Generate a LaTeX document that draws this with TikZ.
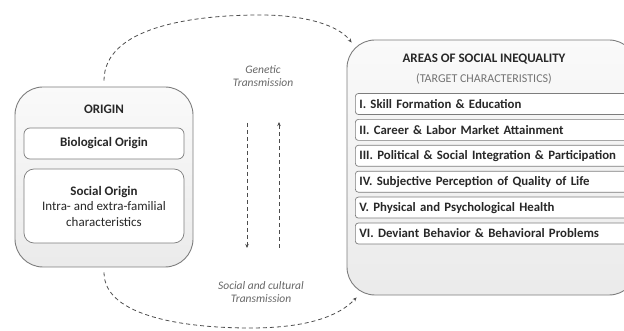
\documentclass[tikz,border=0pt]{standalone}
\usepackage{fontspec}
\setmainfont{Carlito}
\usetikzlibrary{arrows.meta, positioning}
\definecolor{mygray}{RGB}{125,125,125}
\definecolor{mytext}{RGB}{40,40,40}
\tikzset{
    outerbox/.style = {draw=mygray, line width=0.9pt, rounded corners=28pt, top color=gray!4, bottom color=gray!16},
    originbox/.style = {draw=mygray, line width=0.7pt, fill=white, rounded corners=7pt, minimum width=160pt, align=center, text=mytext, font=\fontsize{13}{15.5}\selectfont},
    areabox/.style = {draw=mygray, line width=0.7pt, fill=white, rounded corners=3pt, minimum height=21pt, text width=275pt, inner xsep=4pt, align=left, text=mytext, font=\fontsize{12.8}{15}\selectfont\bfseries},
    heading/.style = {text=mytext, font=\fontsize{13}{15}\selectfont\bfseries},
    note/.style = {text=gray!80!black, font=\fontsize{11.5}{13.5}\selectfont\itshape, align=center},
    transfer/.style = {dash pattern=on 4pt off 3pt, line width=0.8pt, black!70, -{Stealth[length=4pt, width=3.5pt]}}
}

\begin{document}
\begin{tikzpicture}[x=1pt, y=-1pt, node distance=4.2pt]
  \useasboundingbox (0,0) rectangle (624,331);

  % origin side
  \node[outerbox, minimum width=178pt, minimum height=180pt] (origin) at (104,177) {};
  \node[heading] (origintitle) at (104,109) {ORIGIN};
  \node[originbox, minimum height=31pt, rounded corners=6pt, font=\fontsize{13}{15}\selectfont\bfseries] (bio) at (104,143.5) {Biological Origin};
  \node[originbox, minimum height=74pt, rounded corners=10pt] (social) at (104,206) {\textbf{Social Origin}\\Intra- and extra-familial\\characteristics};

  % target side
  \node[outerbox, minimum width=290pt, minimum height=255pt] (areas) at (492,167.5) {};
  \node[heading] (areastitle) at (484,59) {AREAS OF SOCIAL INEQUALITY};
  \node[text=gray!90!black, font=\fontsize{12}{14}\selectfont] (areassub) at (484,79) {(TARGET CHARACTERISTICS)};
  \node[areabox, anchor=west] (skill) at (355,104) {I. Skill Formation \& Education};
  \node[areabox, below=of skill] (career) {II. Career \& Labor Market Attainment};
  \node[areabox, below=of career] (politics) {III. Political \& Social Integration \& Participation};
  \node[areabox, below=of politics] (quality) {IV. Subjective Perception of Quality of Life};
  \node[areabox, below=of quality] (health) {V. Physical and Psychological Health};
  \node[areabox, below=of health] (deviant) {VI. Deviant Behavior \& Behavioral Problems};

  % transmission
  \node[note] (genetic) at (263,76) {Genetic\\Transmission};
  \node[note] (cultural) at (261,292) {Social and cultural\\Transmission};
  \coordinate (downtop) at (247,123);
  \coordinate (downend) at (247,248);
  \coordinate (uptop) at (279,122);
  \coordinate (upend) at (279,248);
  \draw[transfer] (downtop) -- (downend);
  \draw[transfer] (upend) -- (uptop);
  \draw[transfer, shorten <=6pt] (origin.north) .. controls (104,28) and (190,15) .. (260,15)
    .. controls (310,15) and (340,27) .. ([xshift=5pt, yshift=-3pt]areas.north west);
  \draw[transfer, shorten <=5pt] (origin.south) .. controls (104,318) and (190,328) .. (250,328)
    .. controls (310,328) and (340,315) .. ([xshift=10pt, yshift=-2pt]areas.south west);
\end{tikzpicture}
\end{document}
